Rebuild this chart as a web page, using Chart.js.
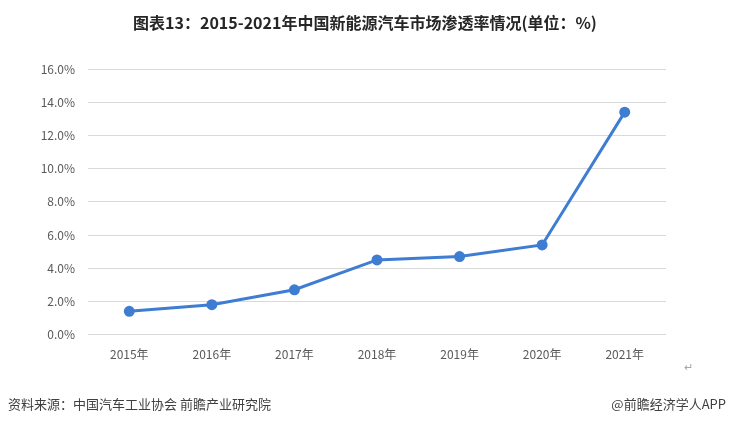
<!DOCTYPE html>
<html>
<head>
<meta charset="utf-8">
<script src="https://cdn.jsdelivr.net/npm/chart.js@4"></script>
<style>
    html, body { margin: 0; padding: 0; background: #fff; }
    #wrap { position: relative; width: 730px; height: 424px; overflow: hidden; }
    #chart { position: absolute; left: 0; top: 0; }
    .txt { position: absolute; font-family: "Noto Sans CJK SC", sans-serif; white-space: nowrap; }
    #title { left: 0; width: 730px; top: 10px; text-align: center; font-size: 16px; font-weight: bold; color: #262626; }
    #source { left: 8px; top: 394px; font-size: 13px; color: #404040; }
    #brand { right: 4px; top: 394px; font-size: 13px; color: #404040; }
    #mark { left: 684px; top: 358px; font-size: 11px; color: #a6a6a6; }
</style>
</head>
<body>
<div id="wrap">
    <canvas id="chart" width="730" height="424"></canvas>
    <div class="txt" id="title">图表13：2015-2021年中国新能源汽车市场渗透率情况(单位：%)</div>
    <div class="txt" id="mark">↵</div>
    <div class="txt" id="source">资料来源：中国汽车工业协会 前瞻产业研究院</div>
    <div class="txt" id="brand">@前瞻经济学人APP</div>
</div>
<script>
// Data
const years = ['2015年', '2016年', '2017年', '2018年', '2019年', '2020年', '2021年'];
const penetration = [1.4, 1.8, 2.7, 4.5, 4.7, 5.4, 13.4];
const yTicks = [0, 2, 4, 6, 8, 10, 12, 14, 16];

const lineColor = '#3e7dd1';
const tickFont = { family: '"Noto Sans CJK SC", sans-serif', size: 12 };

const ctx = document.getElementById('chart').getContext('2d');
new Chart(ctx, {
    type: 'line',
    data: {
        labels: years,
        datasets: [{
            label: '渗透率',
            data: penetration,
            borderColor: lineColor,
            backgroundColor: lineColor,
            borderWidth: 3,
            pointRadius: 4,
            pointBackgroundColor: lineColor,
            pointBorderColor: lineColor,
            tension: 0
        }]
    },
    options: {
        responsive: false,
        animation: false,
        layout: {
            padding: { left: 0, right: 64, top: 69, bottom: 49 }
        },
        plugins: {
            legend: { display: false },
            title: { display: false },
            tooltip: { enabled: false }
        },
        scales: {
            x: {
                offset: true,
                grid: { display: false, drawTicks: false },
                border: { display: false },
                ticks: { color: '#595959', font: tickFont, padding: 13 }
            },
            y: {
                min: 0,
                max: 16,
                afterBuildTicks: (axis) => {
                    axis.ticks = yTicks.map(v => ({ value: v }));
                },
                afterFit: (axis) => { axis.width = 88; },
                grid: { color: '#d9d9d9', lineWidth: 1, drawTicks: false },
                border: { display: false },
                ticks: {
                    color: '#595959',
                    font: tickFont,
                    padding: 13,
                    callback: (v) => v.toFixed(1) + '%'
                }
            }
        }
    }
});
</script>
</body>
</html>
